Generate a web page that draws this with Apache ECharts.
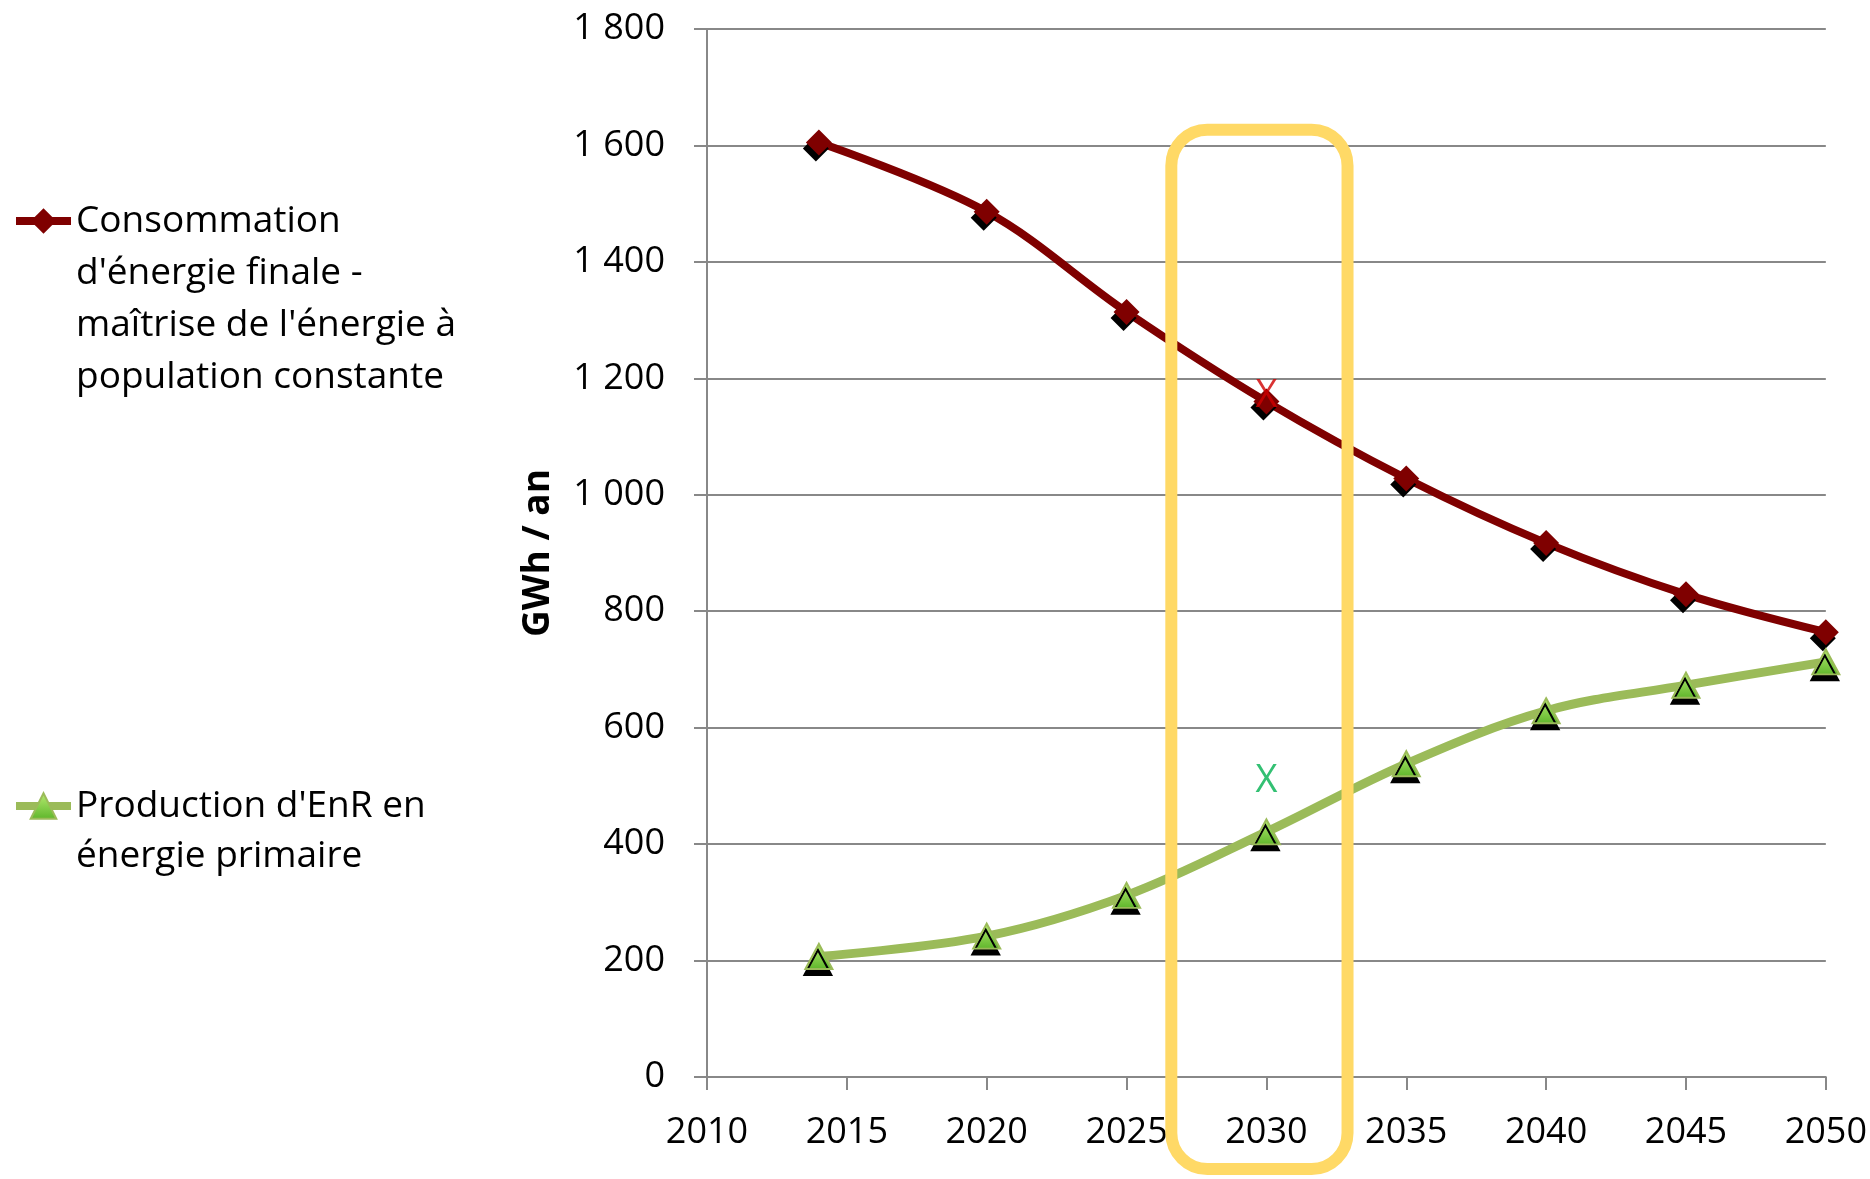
<!DOCTYPE html>
<html>
<head>
<meta charset="utf-8">
<script src="https://cdn.jsdelivr.net/npm/echarts@6/dist/echarts.min.js"></script>
<style>
  html, body { margin: 0; background: #fff; }
  #chart { width: 1870px; height: 1179px; }
</style>
</head>
<body>
<div id="chart"></div>
<script>
// data
const years = [2014, 2020, 2025, 2030, 2035, 2040, 2045, 2050];
const consommation = [1605, 1486, 1314, 1160, 1028, 917, 829, 764];
const production = [207, 242, 312, 421, 538, 629, 673, 713];

// the two hand-drawn "X" marks at 2030
const crossYears = [2030, 2030];
const crossValues = [1170, 508];
const crossColors = ['#D00000', '#00B050'];

const consoName = "Consommation d'énergie finale - maîtrise de l'énergie à population constante";
const consoLines = ['Consommation', "d'énergie finale -", "maîtrise de l'énergie à", 'population constante'];
const prodName = "Production d'EnR en énergie primaire";
const prodLines = ["Production d'EnR en", 'énergie primaire'];

const xMin = 2010, xMax = 2050, xStep = 5;
const yMin = 0, yMax = 1800, yStep = 200;
const yAxisTitle = 'GWh / an';

// yellow highlight box around 2030 (data units)
const boxYears = [2026.6, 2032.9];
const boxValues = [1627, -158];

const FONT = 'Open Sans';
const GRID_GREY = '#888888';

const chart = echarts.init(document.getElementById('chart'));

function spaced(v) {
  return String(v).replace(/\B(?=(\d{3})+(?!\d))/g, ' ');
}

// legend text is centred on its icon, so pad with blank lines above
// to keep the icon level with the first line
function legendText(lines) {
  return '\n'.repeat(lines.length - 1) + lines.join('\n');
}

const legendCommon = {
  orient: 'vertical',
  left: 12,
  padding: 0,
  itemWidth: 55,
  itemHeight: 32,
  lineStyle: { width: 8 },
  itemStyle: { shadowColor: 'rgba(0,0,0,0)', shadowOffsetX: 0, shadowOffsetY: 0, shadowBlur: 0 },
};

chart.setOption({
  animation: false,
  backgroundColor: '#fff',
  grid: { left: 707, right: 43, top: 29, bottom: 102 },
  legend: [
    Object.assign({}, legendCommon, {
      top: 39,
      data: [consoName],
      formatter: () => legendText(consoLines),
      textStyle: { fontFamily: FONT, fontSize: 37, color: '#000', lineHeight: 52 },
    }),
    Object.assign({}, legendCommon, {
      top: 731,
      data: [prodName],
      formatter: () => legendText(prodLines),
      textStyle: { fontFamily: FONT, fontSize: 37, color: '#000', lineHeight: 50 },
    }),
  ],
  xAxis: {
    type: 'value',
    min: xMin,
    max: xMax,
    interval: xStep,
    axisLine: { show: true, lineStyle: { color: GRID_GREY, width: 2 } },
    axisTick: { show: true, length: 13, lineStyle: { color: GRID_GREY, width: 2 } },
    splitLine: { show: false },
    axisLabel: {
      formatter: (v) => String(v),
      fontFamily: FONT, fontSize: 36, color: '#000', margin: 38,
    },
  },
  yAxis: {
    type: 'value',
    min: yMin,
    max: yMax,
    interval: yStep,
    name: yAxisTitle,
    nameLocation: 'middle',
    nameGap: 150,
    nameTextStyle: { fontFamily: FONT, fontSize: 37, fontWeight: 'bold', color: '#000' },
    axisLine: { show: true, lineStyle: { color: GRID_GREY, width: 2 } },
    axisTick: { show: true, length: 13, lineStyle: { color: GRID_GREY, width: 2 } },
    splitLine: { show: true, lineStyle: { color: GRID_GREY, width: 2 } },
    axisLabel: {
      formatter: spaced,
      fontFamily: FONT, fontSize: 36, color: '#000', margin: 42,
    },
  },
  series: [
    {
      name: consoName,
      type: 'line',
      smooth: 0.35,
      symbol: 'diamond',
      symbolSize: 26,
      data: years.map((y, i) => [y, consommation[i]]),
      lineStyle: { color: '#7F0000', width: 8 },
      itemStyle: { color: '#7F0000', shadowColor: '#000', shadowOffsetX: -3, shadowOffsetY: 6, shadowBlur: 0 },
      z: 3,
    },
    {
      name: prodName,
      type: 'line',
      smooth: 0.35,
      symbol: 'triangle',
      symbolSize: [27, 25],
      data: years.map((y, i) => [y, production[i]]),
      lineStyle: { color: '#9BBB59', width: 9 },
      itemStyle: {
        color: {
          type: 'linear', x: 0, y: 0, x2: 0, y2: 1,
          colorStops: [
            { offset: 0, color: '#B8EC72' },
            { offset: 1, color: '#5DB52A' },
          ],
        },
        borderColor: '#9BBB59',
        borderWidth: 2,
        shadowColor: '#000', shadowOffsetX: -1, shadowOffsetY: 6, shadowBlur: 0,
      },
      z: 3,
    },
    {
      name: 'x-marks',
      type: 'scatter',
      symbolSize: 0,
      data: crossYears.map((y, i) => ({
        value: [y, crossValues[i]],
        label: { color: crossColors[i] },
      })),
      label: {
        show: true,
        position: 'inside',
        formatter: 'X',
        fontFamily: FONT,
        fontSize: 38,
      },
      z: 20,
      zlevel: 1,
    },
  ],
});

// rounded yellow frame, positioned through the grid's own scales
const p0 = chart.convertToPixel({ gridIndex: 0 }, [boxYears[0], boxValues[0]]);
const p1 = chart.convertToPixel({ gridIndex: 0 }, [boxYears[1], boxValues[1]]);
chart.setOption({
  graphic: [{
    type: 'rect',
    z: 100,
    zlevel: 2,
    shape: { x: p0[0], y: p0[1], width: p1[0] - p0[0], height: p1[1] - p0[1], r: 36 },
    style: { fill: 'none', stroke: '#FFD966', lineWidth: 12 },
  }],
});
</script>
</body>
</html>
